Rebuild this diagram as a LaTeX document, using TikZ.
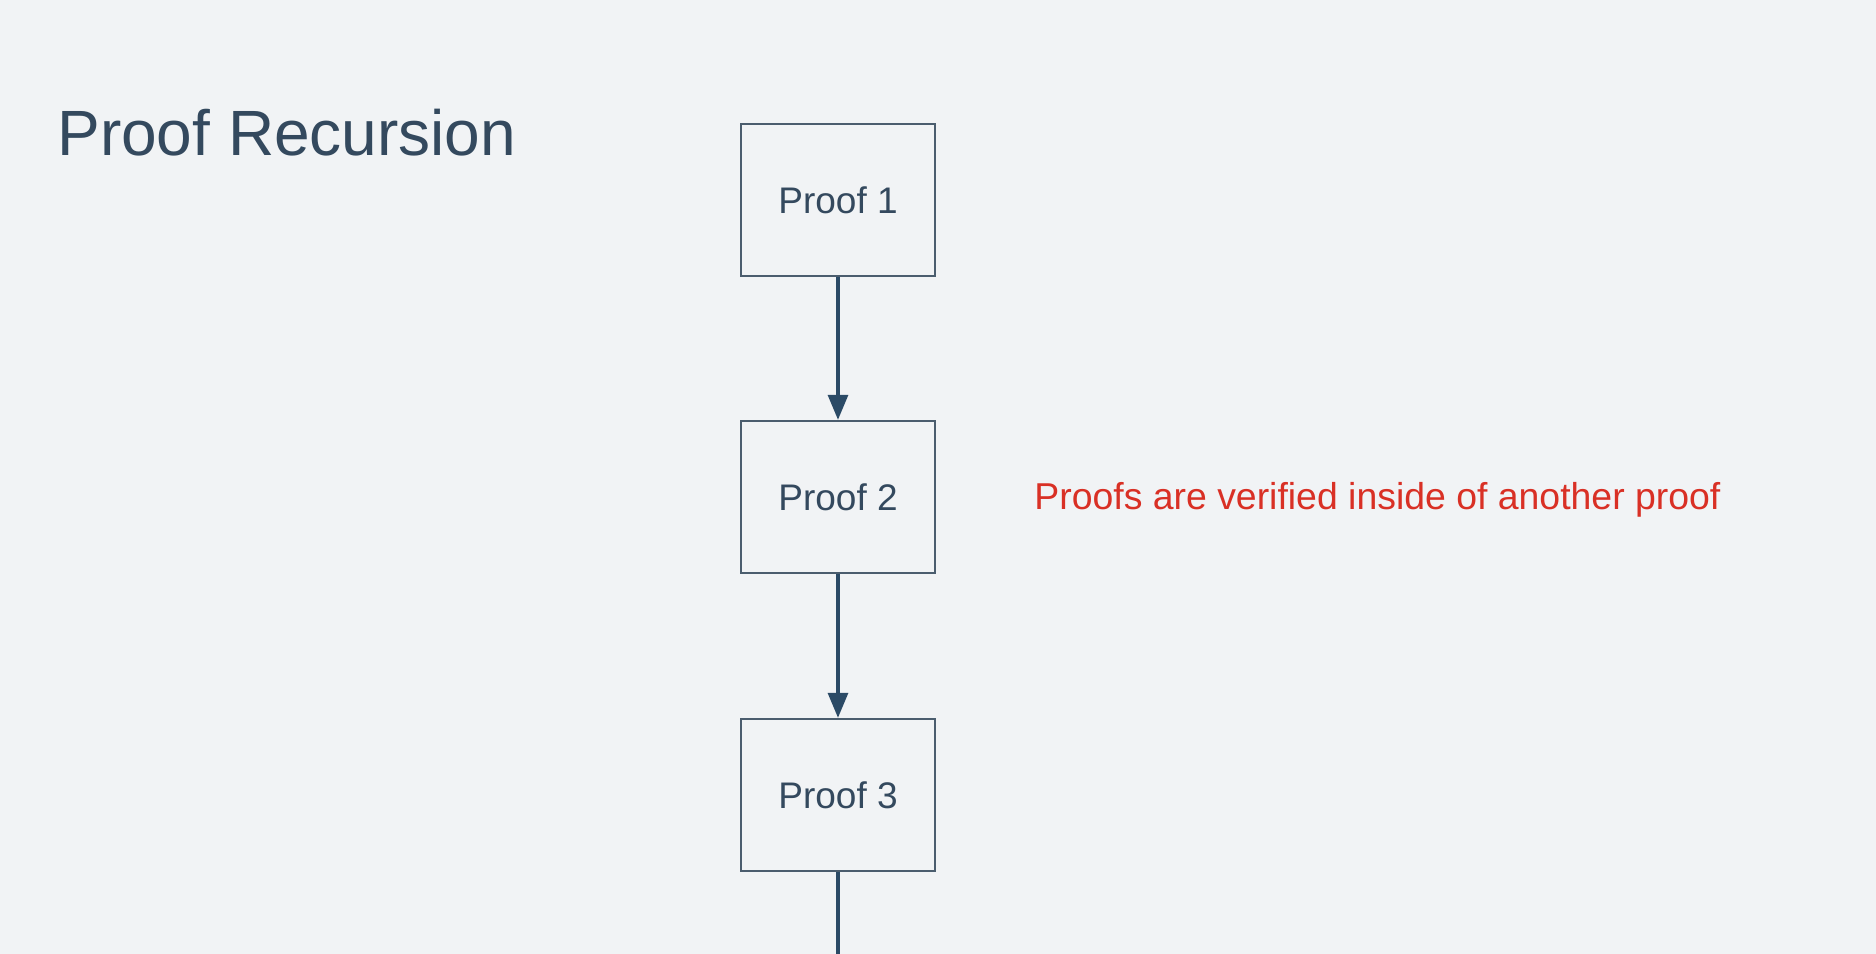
\documentclass[tikz,border=0pt]{standalone}
\usepackage{fontspec}
\setmainfont{Liberation Sans}
\usetikzlibrary{arrows.meta}
\definecolor{slidebg}{HTML}{F1F3F5}
\definecolor{inkblue}{HTML}{34495E}
\definecolor{boxline}{HTML}{4B5D6E}
\definecolor{arrowblue}{HTML}{2B4A66}
\definecolor{notered}{HTML}{D93025}
\tikzset{
  proofbox/.style={draw=boxline, line width=1.2pt, minimum width=97pt,
    minimum height=76pt, inner sep=0pt, text=inkblue,
    font=\fontsize{18.5}{22}\selectfont},
  recarrow/.style={draw=arrowblue, line width=1.6pt,
    -{Triangle[width=10pt,length=12.5pt]}},
}
\begin{document}
\begin{tikzpicture}[x=0.5pt,y=-0.5pt]
    % fondo de la diapositiva
    \fill[slidebg] (0,0) rectangle (1876,954);
    \useasboundingbox (0,0) rectangle (1876,954);
    \node[anchor=base west, inner sep=0pt, text=inkblue,
        font=\fontsize{32}{38}\selectfont] (title) at (57,155) {Proof Recursion};
    % cadena de pruebas
    \node[proofbox] (proof1) at (838,200) {Proof 1};
    \node[proofbox] (proof2) at (838,497) {Proof 2};
    \node[proofbox] (proof3) at (838,795) {Proof 3};
    \coordinate (tail) at (838,954);
    \draw[recarrow] (proof1) -- (proof2);
    \draw[recarrow] (proof2) -- (proof3);
    \draw[arrowblue, line width=1.6pt] (proof3) -- (tail);
    \node[anchor=base west, inner sep=0pt, text=notered,
        font=\fontsize{18.7}{22}\selectfont] (note) at (1034,509)
        {Proofs are verified inside of another proof};
\end{tikzpicture}
\end{document}
